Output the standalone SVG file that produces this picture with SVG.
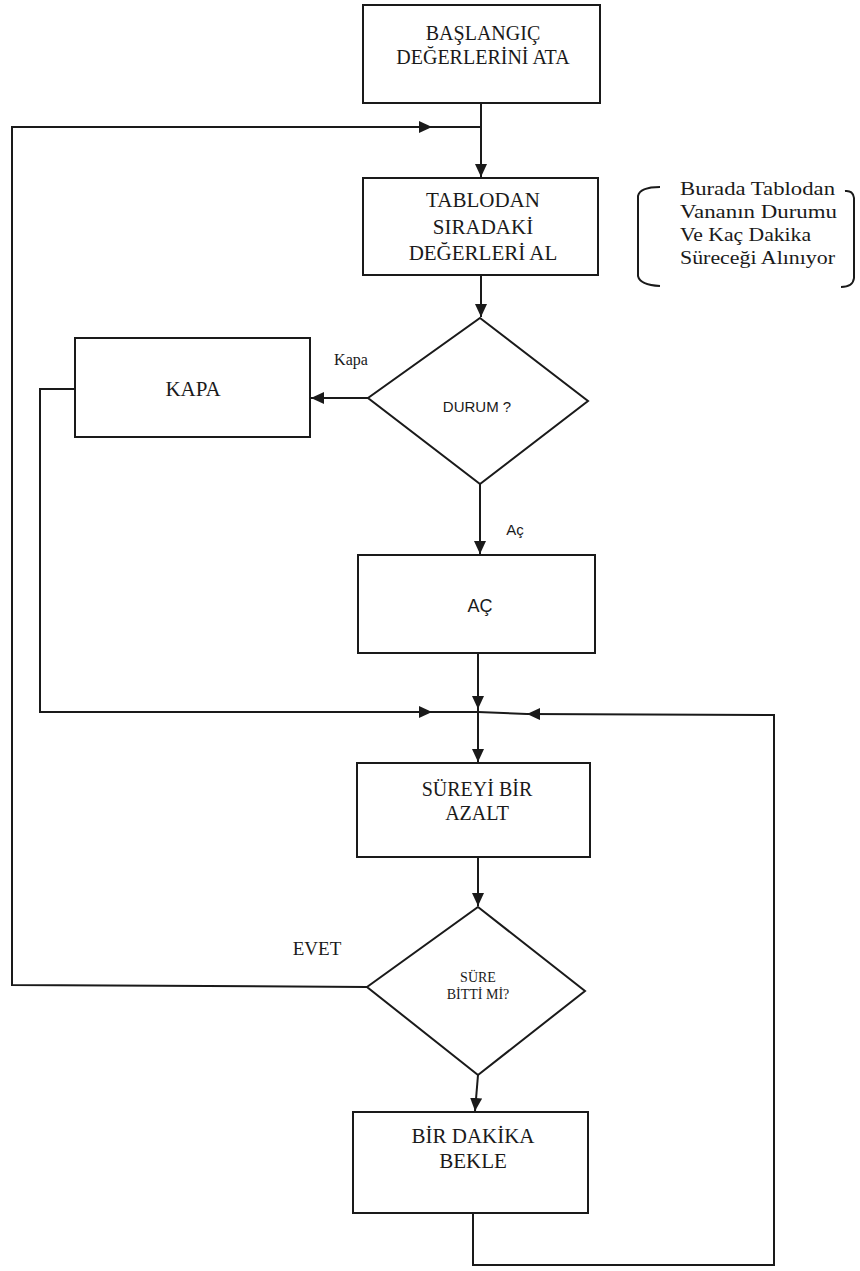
<svg xmlns="http://www.w3.org/2000/svg" width="860" height="1271" viewBox="0 0 860 1271">
<style>
.box{fill:none;stroke:#1a1a1a;stroke-width:2}
.ln{fill:none;stroke:#1a1a1a;stroke-width:2}
.t{font-family:"Liberation Serif","Times New Roman",serif;font-size:21px;fill:#1a1a1a;text-anchor:middle}
.s{font-family:"Liberation Serif","Times New Roman",serif;font-size:14px;fill:#1a1a1a;text-anchor:middle}
.n{font-family:"Liberation Serif","Times New Roman",serif;font-size:18px;fill:#1a1a1a}
</style>
<defs>
<marker id="ah" markerUnits="userSpaceOnUse" markerWidth="14" markerHeight="12" refX="13" refY="6" orient="auto">
<path d="M0,0 L13,6 L0,12 z" fill="#1a1a1a"/>
</marker>
</defs>
<rect width="860" height="1271" fill="#ffffff"/>
<g id="connectors">
<path class="ln" d="M481,103 L481,177" marker-end="url(#ah)"/>
<path class="ln" d="M367,987 L12,985 L12,127 L432,127" marker-end="url(#ah)"/>
<path class="ln" d="M432,127 L481,127"/>
<path class="ln" d="M481,275 L481,317" marker-end="url(#ah)"/>
<path class="ln" d="M368,398 L311,398" marker-end="url(#ah)"/>
<path class="ln" d="M480,484 L480,554" marker-end="url(#ah)"/>
<path class="ln" d="M75,389 L40,389 L40,712 L432,712" marker-end="url(#ah)"/>
<path class="ln" d="M432,712 L478,712"/>
<path class="ln" d="M478,653 L478,709" marker-end="url(#ah)"/>
<path class="ln" d="M478,709 L478,762" marker-end="url(#ah)"/>
<path class="ln" d="M478,857 L478,906" marker-end="url(#ah)"/>
<path class="ln" d="M478,1075 L475,1111" marker-end="url(#ah)"/>
<path class="ln" d="M473,1213 L473,1265 L774,1265 L774,715 L527,714" marker-end="url(#ah)"/>
<path class="ln" d="M527,714 L478,712"/>
</g>
<g id="n-baslangic">
<rect class="box" x="363" y="5" width="237" height="98"/>
<text class="t" x="483" y="40" style="font-size:20px">BAŞLANGIÇ</text>
<text class="t" x="483" y="64" style="font-size:20px">DEĞERLERİNİ ATA</text>
</g>
<g id="n-tablodan">
<rect class="box" x="363" y="178" width="235" height="97"/>
<text class="t" x="483" y="207">TABLODAN</text>
<text class="t" x="483" y="234">SIRADAKİ</text>
<text class="t" x="483" y="260">DEĞERLERİ AL</text>
</g>
<g id="n-note">
<path class="ln" d="M660,187 Q640,187 638,196 L638,276 Q640,285 660,286"/>
<path class="ln" d="M845,191 Q853,190 854,198 L854,278 Q853,287 841,287"/>
<text class="n" x="680" y="195" textLength="155" lengthAdjust="spacingAndGlyphs">Burada Tablodan</text>
<text class="n" x="680" y="218" textLength="157" lengthAdjust="spacingAndGlyphs">Vananın Durumu</text>
<text class="n" x="680" y="241" textLength="131" lengthAdjust="spacingAndGlyphs">Ve Kaç Dakika</text>
<text class="n" x="680" y="264" textLength="155" lengthAdjust="spacingAndGlyphs">Süreceği Alınıyor</text>
</g>
<g id="n-durum">
<polygon class="box" points="480,318 588,401 480,484 368,398"/>
<text class="s" x="477" y="412" style="font-family:'Liberation Sans',Arial,sans-serif;font-size:15px">DURUM ?</text>
<text class="s" x="351" y="365" style="font-size:16px">Kapa</text>
<text class="s" x="515" y="535" style="font-family:'Liberation Sans',Arial,sans-serif;font-size:15px">Aç</text>
</g>
<g id="n-kapa">
<rect class="box" x="75" y="338" width="235" height="99"/>
<text class="t" x="193" y="396">KAPA</text>
</g>
<g id="n-ac">
<rect class="box" x="358" y="555" width="237" height="98"/>
<text class="t" x="480" y="612" style="font-family:'Liberation Sans',Arial,sans-serif;font-size:18px">AÇ</text>
</g>
<g id="n-sureyi">
<rect class="box" x="357" y="763" width="233" height="94"/>
<text class="t" x="477" y="796" style="font-size:20px">SÜREYİ BİR</text>
<text class="t" x="477" y="820" style="font-size:20px">AZALT</text>
</g>
<g id="n-sure">
<polygon class="box" points="478,907 585,991 478,1075 367,987"/>
<text class="s" x="478" y="982">SÜRE</text>
<text class="s" x="478" y="999">BİTTİ Mİ?</text>
<text class="t" x="317" y="955" style="font-size:19px">EVET</text>
</g>
<g id="n-bekle">
<rect class="box" x="353" y="1112" width="235" height="101"/>
<text class="t" x="473" y="1143">BİR DAKİKA</text>
<text class="t" x="473" y="1168">BEKLE</text>
</g>
</svg>
